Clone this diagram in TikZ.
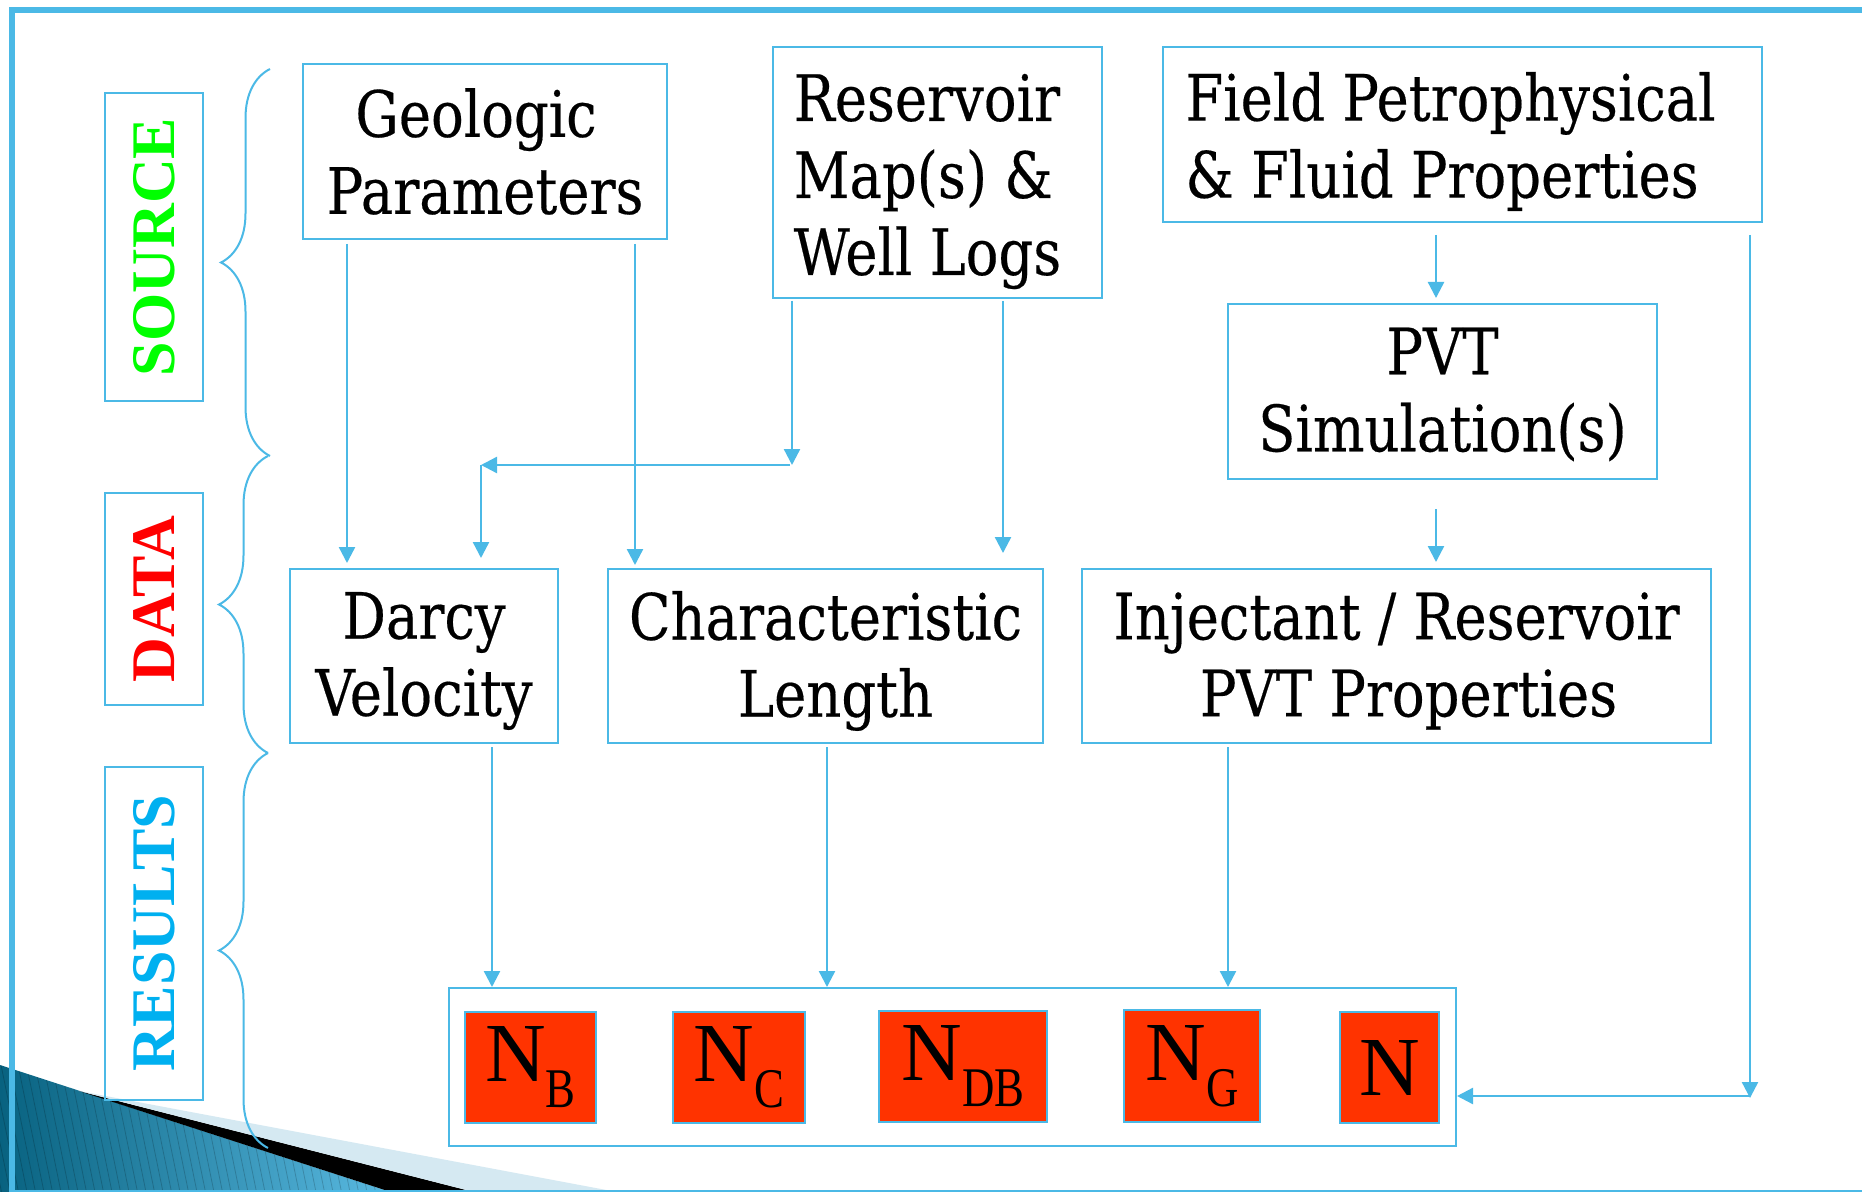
\documentclass[tikz,border=0pt]{standalone}
\usepackage{fontspec}
\usepackage{graphicx}
\setmainfont[FakeStretch=0.85,FakeBold=0.3]{DejaVu Serif}
\newfontfamily\tnr{Liberation Serif}
\usetikzlibrary{arrows.meta,decorations.pathreplacing,calc}
\definecolor{lb}{RGB}{75,185,230}
\definecolor{nred}{RGB}{255,51,0}
\definecolor{srcgreen}{RGB}{0,255,0}
\definecolor{datared}{RGB}{255,0,0}
\definecolor{resblue}{RGB}{0,176,240}
\definecolor{decoA}{RGB}{8,98,128}
\definecolor{decoB}{RGB}{92,188,228}
\definecolor{lightband}{RGB}{213,233,242}
\newcommand\nsub[1]{\raisebox{-13pt}{\fontsize{28}{28}\selectfont\scalebox{0.8}[1]{#1}}}
\begin{document}
\begin{tikzpicture}[x=0.5pt,y=-0.5pt,
  arr/.style={draw=lb,line width=1.2pt,-{Triangle[length=8pt,width=8pt]}},
  box/.style={draw=lb,line width=1pt,inner sep=0pt},
  txt/.style={inner sep=0pt,font=\fontsize{32}{38.5}\selectfont},
  lab/.style={draw=lb,line width=1pt,rotate=90,inner sep=0pt,minimum height=49pt,font=\tnr\bfseries\fontsize{31}{31}\selectfont},
  nbox/.style={fill=nred,draw=lb,line width=0.75pt,inner sep=0pt,minimum height=55.5pt,font=\tnr\fontsize{42}{42}\selectfont},
  brc/.style={draw=lb,line width=1pt,decorate,decoration={brace,amplitude=24.5pt}}]
\useasboundingbox (0,0) rectangle (1862,1192);
\fill[white] (0,0) rectangle (1862,1192);
% bottom-left decoration
\begin{scope}
  \clip (0,1065) -- (391,1192) -- (0,1192) -- cycle;
  \shade[left color=decoA,right color=decoB] (0,1060) rectangle (400,1192);
  \foreach \i in {-4,...,50}
    \draw[black,opacity=0.18,line width=0.4pt] (\i*8.5,1060) -- (\i*8.5+27,1192);
\end{scope}
\fill[black] (79,1091) -- (474,1192) -- (391,1192) -- cycle;
\fill[lightband] (79,1091) -- (617,1192) -- (474,1192) -- cycle;
% frame
\draw[lb,line width=3pt] (11.5,1192) -- (11.5,10) -- (1862,10);
\draw[lb,line width=1pt] (11.5,1190.5) -- (1862,1190.5);
% braces
\draw[brc] (270,456) -- (270,69);
\draw[brc] (268,753) -- (268,456);
\draw[brc] (268,1148) -- (268,753);
% side labels
\node[lab,minimum width=154pt,text=srcgreen] (lsrc) at (154,247) {SOURCE};
\node[lab,minimum width=106pt,text=datared] (ldata) at (154,599) {DATA};
\node[lab,minimum width=166.5pt,text=resblue] (lres) at (154,933.5) {RESULTS};
% main boxes
\node[box,minimum width=182pt,minimum height=87.5pt] (geo) at (485,151.5) {};
\node[box,minimum width=164.5pt,minimum height=125.5pt] (res) at (937.5,172.5) {};
\node[box,minimum width=299.5pt,minimum height=87.5pt] (field) at (1462.5,134.5) {};
\node[box,minimum width=214.5pt,minimum height=87.5pt] (pvt) at (1442.5,391.5) {};
\node[box,minimum width=134pt,minimum height=87pt] (darcy) at (424,656) {};
\node[box,minimum width=217.5pt,minimum height=87pt] (charl) at (825.5,656) {};
\node[box,minimum width=314.5pt,minimum height=87pt] (inj) at (1396.5,656) {};
\node[box,minimum width=503.5pt,minimum height=79pt] (results) at (952.5,1067) {};
% box texts
\node[txt,align=center] (geoT) at ($(geo)+(0,0)$) {Geologic\hspace*{9pt}\\Parameters};
\node[txt,align=left] (resT) at ($(res)+(-10,9)$) {Reservoir\\Map(s) \&\\Well Logs};
\node[txt,align=left] (fieldT) at ($(field)+(-12,7)$) {Field Petrophysical\\\& Fluid Properties};
\node[txt,align=center] (pvtT) at ($(pvt)+(0,3)$) {PVT\\Simulation(s)};
\node[txt,align=center] (darcyT) at ($(darcy)+(0,5)$) {Darcy\\Velocity};
\node[txt,align=center] (charlT) at ($(charl)+(0,5)$) {Characteristic\\\hspace*{10pt}Length};
\node[txt,align=center] (injT) at ($(inj)+(0,5)$) {Injectant / Reservoir\\\hspace*{12pt}PVT Properties};
% result boxes
\node[nbox,minimum width=65.5pt] (nb) at (530.5,1067.5) {N\nsub{B}};
\node[nbox,minimum width=66pt] (nc) at (739,1067.5) {N\nsub{C}};
\node[nbox,minimum width=84pt] (ndb) at (963,1066.5) {N\nsub{DB}};
\node[nbox,minimum width=68pt,minimum height=56pt] (ng) at (1192,1066) {N\nsub{G}};
\node[nbox,minimum width=49.5pt] (n) at (1389.5,1067.5) {N};
% connector guide coordinates
\coordinate (x1) at (347,0);
\coordinate (x2) at (635,0);
\coordinate (x3) at (792,0);
\coordinate (x5) at (1003,0);
\coordinate (x6) at (1436,0);
\coordinate (x7) at (1750,0);
\coordinate (x8) at (492,0);
\coordinate (x9) at (827,0);
\coordinate (x10) at (1228,0);
\coordinate (j1) at (792,465);
\coordinate (j2) at (481,465);
\coordinate (j3) at (1750,1096);
% connectors
\draw[arr,shorten <=2pt,shorten >=2.5pt] (geo.south -| x1) -- (darcy.north -| x1);
\draw[arr,shorten <=2pt,shorten >=1.5pt] (geo.south -| x2) -- (charl.north -| x2);
\draw[arr,shorten <=1pt] (res.south -| x3) -- (j1);
\draw[arr] ($(j1)+(-2,0)$) -- (j2);
\draw[arr,shorten >=5pt] (j2) -- (darcy.north -| j2);
\draw[arr,shorten <=1pt,shorten >=7.5pt] (res.south -| x5) -- (charl.north -| x5);
\draw[arr,shorten <=6pt,shorten >=2.5pt] (field.south -| x6) -- (pvt.north -| x6);
\draw[arr,shorten <=14.5pt,shorten >=3pt] (pvt.south -| x6) -- (inj.north -| x6);
\draw[arr,shorten <=6pt] (field.south -| x7) -- ($(j3)+(0,2)$);
\draw[arr] (j3) -- (results.east |- j3);
\draw[arr,shorten <=1.5pt] (darcy.south -| x8) -- (results.north -| x8);
\draw[arr,shorten <=1.5pt] (charl.south -| x9) -- (results.north -| x9);
\draw[arr,shorten <=1.5pt] (inj.south -| x10) -- (results.north -| x10);
\end{tikzpicture}
\end{document}
